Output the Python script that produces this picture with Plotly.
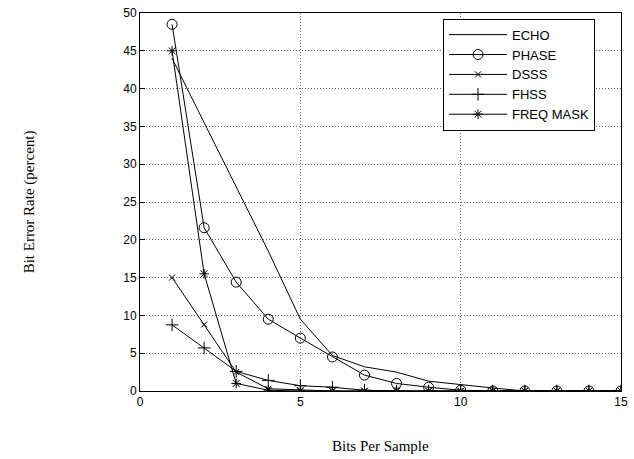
import plotly.graph_objects as go

bits = list(range(1, 16))
echo = [44, 35.5, 27, 18.5, 9.5, 4.7, 3.2, 2.5, 1.3, 0.8, 0.4, 0, 0, 0, 0]
phase = [48.5, 21.6, 14.4, 9.5, 7.0, 4.5, 2.1, 1.0, 0.5, 0.1, 0, 0, 0, 0, 0]
dsss = [15.0, 8.8, 2.5, 0.3, 0.1, 0, 0, 0, 0, 0, 0, 0, 0, 0, 0]
fhss = [8.75, 5.7, 2.6, 1.4, 0.7, 0.5, 0.1, 0, 0, 0, 0, 0, 0, 0, 0]
freqmask = [45, 15.5, 1.0, 0.1, 0, 0, 0, 0, 0, 0, 0, 0, 0, 0, 0]

x_ticks = [0, 5, 10, 15]
y_ticks = list(range(0, 51, 5))

fig = go.Figure()
series = [
    ("ECHO", echo, None, 0),
    ("PHASE", phase, "circle-open", 10),
    ("DSSS", dsss, "x-thin-open", 6),
    ("FHSS", fhss, "cross-thin-open", 9),
    ("FREQ MASK", freqmask, "asterisk-open", 8),
]
for name, ys, sym, sz in series:
    if sym is None:
        fig.add_trace(go.Scatter(x=bits, y=ys, name=name, mode="lines",
                                 line=dict(color="black", width=1)))
    else:
        fig.add_trace(go.Scatter(x=bits, y=ys, name=name, mode="lines+markers",
                                 line=dict(color="black", width=1),
                                 marker=dict(symbol=sym, size=sz, color="black",
                                             line=dict(color="black", width=1))))

axis_common = dict(showgrid=True, gridcolor="#666666", griddash="1px,2px", gridwidth=1,
                   showline=True, linecolor="black", linewidth=1, mirror=True,
                   ticks="inside", ticklen=5, tickcolor="black", zeroline=False,
                   tickfont=dict(family="Liberation Sans, Arial", size=12, color="black"))

fig.update_xaxes(range=[0, 15], tickvals=x_ticks, **axis_common)
fig.update_yaxes(range=[0, 50], tickvals=y_ticks, **axis_common)

fig.update_layout(
    width=634, height=459,
    margin=dict(l=140, r=9, t=6, b=68),
    plot_bgcolor="white", paper_bgcolor="white",
    showlegend=True,
    legend=dict(x=0.63, y=0.985, xanchor="left", yanchor="top",
                bgcolor="white", bordercolor="black", borderwidth=1,
                font=dict(family="Liberation Sans, Arial", size=13, color="black"),
                tracegroupgap=0, itemwidth=58),
    annotations=[
        dict(text="Bits Per Sample", xref="paper", yref="paper", x=0.5, y=-0.145,
             xanchor="center", yanchor="middle", showarrow=False,
             font=dict(family="Liberation Serif, Times New Roman", size=15, color="black")),
        dict(text="Bit Error Rate (percent)", xref="paper", yref="paper", x=-0.23, y=0.5,
             xanchor="center", yanchor="middle", showarrow=False, textangle=-90,
             font=dict(family="Liberation Serif, Times New Roman", size=15, color="black")),
    ],
)

fig.write_html("out.html")
